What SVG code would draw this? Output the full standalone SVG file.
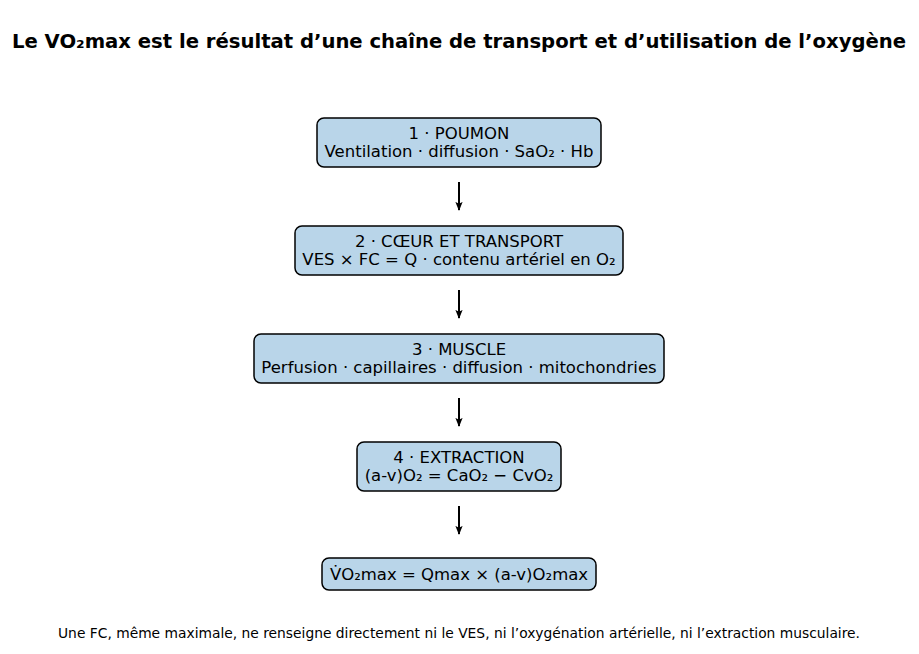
<svg xmlns="http://www.w3.org/2000/svg" width="919" height="654" viewBox="0 0 919 654">
<style>
.box{fill:#b9d5e9;stroke:#000;stroke-width:1.5}
.t{font-family:"DejaVu Sans",sans-serif;font-size:16.5px;text-anchor:middle;fill:#000}
.title{font-family:"DejaVu Sans",sans-serif;font-size:19px;font-weight:bold;text-anchor:middle}
.foot{font-family:"DejaVu Sans",sans-serif;font-size:14px;text-anchor:middle}
.c{stroke:#000;stroke-width:2;fill:none;marker-end:url(#ah)}
</style>
<defs>
<marker id="ah" viewBox="0 0 10 10" refX="9" refY="5" markerWidth="9" markerHeight="9" markerUnits="userSpaceOnUse" orient="auto">
<path d="M0,1 L10,5 L0,9 L2,5 z" fill="#000"/>
</marker>
</defs>
<rect width="919" height="654" fill="#fff"/>
<text class="title" x="459" y="48" textLength="894" lengthAdjust="spacingAndGlyphs">Le VO₂max est le résultat d’une chaîne de transport et d’utilisation de l’oxygène</text>
<g id="connectors">
<line class="c" x1="459" y1="182" x2="459" y2="210"/>
<line class="c" x1="459" y1="290" x2="459" y2="318"/>
<line class="c" x1="459" y1="398" x2="459" y2="426"/>
<line class="c" x1="459" y1="506" x2="459" y2="534"/>
</g>
<g id="n1">
<rect class="box" x="317" y="118" width="284" height="49" rx="7"/>
<text class="t" x="459" y="139">1 · POUMON</text>
<text class="t" x="459" y="157">Ventilation · diffusion · SaO₂ · Hb</text>
</g>
<g id="n2">
<rect class="box" x="295" y="226" width="328" height="49" rx="7"/>
<text class="t" x="459" y="247">2 · CŒUR ET TRANSPORT</text>
<text class="t" x="459" y="265">VES × FC = Q · contenu artériel en O₂</text>
</g>
<g id="n3">
<rect class="box" x="254" y="334" width="410" height="49" rx="7"/>
<text class="t" x="459" y="355">3 · MUSCLE</text>
<text class="t" x="459" y="373">Perfusion · capillaires · diffusion · mitochondries</text>
</g>
<g id="n4">
<rect class="box" x="357" y="442" width="204" height="49" rx="7"/>
<text class="t" x="459" y="463">4 · EXTRACTION</text>
<text class="t" x="459" y="481">(a-v)O₂ = CaO₂ − CvO₂</text>
</g>
<g id="n5">
<rect class="box" x="322" y="558" width="274" height="32" rx="7"/>
<text class="t" x="459" y="580">V̇O₂max = Qmax × (a-v)O₂max</text>
</g>
<text class="foot" x="459" y="638" textLength="802" lengthAdjust="spacingAndGlyphs">Une FC, même maximale, ne renseigne directement ni le VES, ni l’oxygénation artérielle, ni l’extraction musculaire.</text>
</svg>
